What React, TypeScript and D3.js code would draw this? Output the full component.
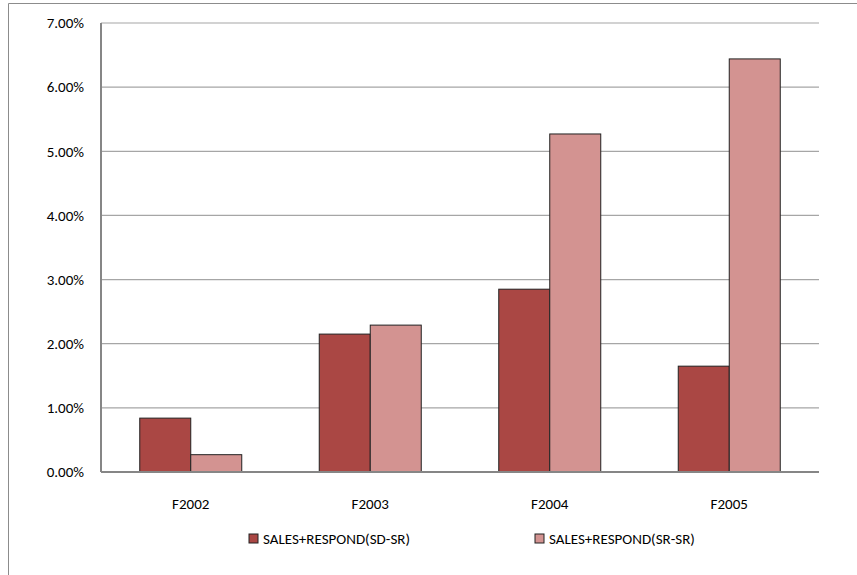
import React from "react";
import * as d3 from "d3";

const categories = ["F2002", "F2003", "F2004", "F2005"];
const seriesNames = ["SALES+RESPOND(SD-SR)", "SALES+RESPOND(SR-SR)"];
const sdSr = [0.0084, 0.0215, 0.0285, 0.0165];
const srSr = [0.0027, 0.0229, 0.0527, 0.0644];
const yTicks = [0, 0.01, 0.02, 0.03, 0.04, 0.05, 0.06, 0.07];
const colors = ["#AA4744", "#D39391"];

export default function App() {
  const W = 857, H = 575;
  const left = 101, right = 819, top = 23, bottom = 472;
  const x = d3.scaleBand().domain(categories).range([left, right]).paddingInner(0).paddingOuter(0);
  const y = d3.scaleLinear().domain([0, 0.07]).range([bottom, top]);
  const bw = 51;
  const series = [sdSr, srSr];
  const font = "Carlito, Calibri, Lato, 'Open Sans', sans-serif";
  return (
    <svg width={W} height={H} style={{ position: "absolute", left: 0, top: 0 }}>
      <rect x={0} y={0} width={W} height={H} fill="#fff" />
      <path d={`M8.5,${H + 5} V3.5 H${W + 5}`} fill="none" stroke="#8c8c8c" strokeWidth={1} />
      {yTicks.map((t) => (
        <g key={t}>
          {t > 0 && <line x1={left} x2={right} y1={y(t)} y2={y(t)} stroke="#a6a6a6" strokeWidth={1.2} />}
          <text x={84} y={y(t)} dy="0.35em" textAnchor="end" fontFamily={font} fontSize={15} fill="#000">
            {d3.format(".2%")(t)}
          </text>
        </g>
      ))}
      {categories.map((c, i) => {
        const cx = x(c)! + x.bandwidth() / 2;
        return (
          <g key={c}>
            {series.map((s, j) => (
              <rect
                key={j}
                x={cx - bw + j * bw}
                y={y(s[i])}
                width={bw}
                height={bottom - y(s[i])}
                fill={colors[j]}
                stroke="#222"
                strokeWidth={1}
              />
            ))}
            <text x={cx} y={504} dy="0.35em" textAnchor="middle" fontFamily={font} fontSize={15} fill="#000">
              {c}
            </text>
          </g>
        );
      })}
      <line x1={left} x2={left} y1={top} y2={bottom} stroke="#868686" strokeWidth={2} />
      <line x1={left} x2={right} y1={bottom} y2={bottom} stroke="#868686" strokeWidth={2} />
      {seriesNames.map((n, j) => {
        const lx = [249, 535][j];
        return (
          <g key={n}>
            <rect x={lx} y={534} width={9} height={9} fill={colors[j]} stroke="#222" strokeWidth={1} />
            <text x={lx + 14} y={539} dy="0.35em" fontFamily={font} fontSize={15} fill="#000">
              {n}
            </text>
          </g>
        );
      })}
    </svg>
  );
}
